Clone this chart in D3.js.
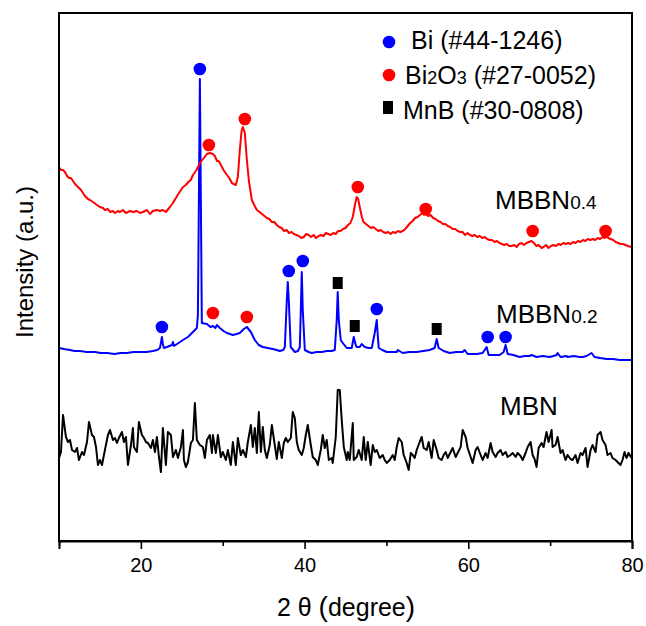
<!DOCTYPE html>
<html>
<head>
<meta charset="utf-8">
<script src="https://cdn.jsdelivr.net/npm/d3@7"></script>
<style>
  body { margin: 0; background: #fff; }
  text { font-family: Arial, "Liberation Sans", sans-serif; fill: #000; }
</style>
</head>
<body>
<svg id="chart" width="646" height="626"></svg>
<script>
// XRD patterns, stacked: [2θ (degree), intensity (a.u., offset per sample)]
const mbbn04 = [
  [10.00,374],[10.24,371],[10.49,371],[10.73,369],[10.98,365],[11.22,363],[11.46,363],[11.71,360],[11.95,357],[12.20,355],
  [12.44,353],[12.69,351],[12.93,348],[13.17,345],[13.54,342],[13.78,341],[14.15,339],[14.64,336],[15.00,334],[15.37,333],
  [15.61,331],[15.98,332],[16.23,329],[16.59,330],[16.84,328],[17.20,330],[17.45,329],[17.81,331],[18.18,328],[18.67,330],
  [19.03,329],[19.52,330],[19.89,328],[20.25,329],[20.74,331],[21.11,327],[21.47,330],[21.96,331],[22.33,330],[22.69,331],
  [23.06,329],[23.55,334],[23.92,338],[24.50,346],[25.14,354],[25.50,356],[25.80,359],[26.10,361],[26.36,366],[26.80,371],
  [27.21,378],[27.60,382],[28.07,387],[28.43,388],[28.80,387],[29.04,385],[29.30,380],[29.50,380],[29.65,378],[30.10,371],
  [30.51,366],[30.80,363],[31.12,358],[31.35,357],[31.60,356],[31.85,364],[32.09,391],[32.30,410],[32.46,414],[32.70,408],
  [32.95,381],[33.20,360],[33.56,341],[33.85,336],[34.17,331],[34.50,329],[34.80,327],[35.10,325],[35.39,323],[35.70,322],
  [36.00,319],[36.30,319],[36.60,316],[36.90,314],[37.20,313],[37.50,310],[37.80,311],[38.10,308],[38.40,309],[38.70,307],
  [39.00,306],[39.30,305],[39.60,303],[39.90,304],[40.20,307],[40.50,306],[40.80,304],[41.10,306],[41.40,303],[41.70,305],
  [42.00,306],[42.30,305],[42.60,308],[42.90,307],[43.20,306],[43.50,308],[43.80,307],[44.10,310],[44.40,310],[44.70,312],
  [45.00,313],[45.30,316],[45.60,318],[45.89,324],[46.15,336],[46.37,344],[46.55,342],[46.74,334],[47.00,324],[47.20,319],
  [47.50,317],[47.80,315],[48.10,313],[48.40,314],[48.70,312],[49.00,310],[49.30,311],[49.60,309],[49.90,308],[50.20,309],
  [50.50,307],[50.80,309],[51.10,308],[51.40,310],[51.70,309],[52.00,310],[52.30,312],[52.60,315],[52.90,318],[53.20,320],
  [53.50,323],[53.80,324],[54.10,326],[54.43,328],[54.60,326],[54.80,327],[55.10,325],[55.40,326],[55.70,323],[56.00,322],
  [56.30,320],[56.60,319],[56.90,317],[57.20,317],[57.50,315],[57.80,314],[58.10,312],[58.40,312],[58.70,310],[59.00,309],
  [59.30,309],[59.60,306],[59.90,308],[60.20,306],[60.50,305],[60.80,306],[61.10,304],[61.40,305],[61.70,303],[62.00,304],
  [62.30,302],[62.60,301],[62.90,301],[63.20,299],[63.50,300],[63.80,298],[64.10,297],[64.40,296],[64.70,297],[65.00,295],
  [65.30,295],[65.60,296],[65.90,294],[66.20,297],[66.51,298],[66.80,296],[67.12,298],[67.40,299],[67.73,300],[68.00,298],
  [68.34,295],[68.60,296],[68.95,293],[69.20,294],[69.50,296],[69.80,293],[70.10,295],[70.40,296],[70.70,295],[71.00,297],
  [71.30,296],[71.60,298],[71.90,297],[72.20,298],[72.50,297],[72.80,299],[73.10,298],[73.40,300],[73.70,299],[74.00,301],
  [74.30,300],[74.60,302],[74.90,301],[75.20,302],[75.50,301],[75.80,303],[76.10,302],[76.40,304],[76.70,303],[76.89,305],
  [77.10,303],[77.40,302],[77.70,301],[78.00,299],[78.30,298],[78.60,297],[78.90,297],[79.20,296],[79.50,295],[79.94,294]
];

const mbbn02 = [
  [10.00,193],[10.60,192],[11.34,191],[11.90,190],[12.56,190],[13.40,189],[14.39,189],[15.10,188],[15.86,188],[16.80,187],
  [17.50,188],[18.30,188],[19.10,189],[19.89,189],[20.70,189],[21.47,190],[22.00,191],[22.33,193],[22.45,198],[22.57,204],
  [22.69,197],[22.82,193],[23.18,194],[23.79,196],[23.92,199],[24.04,195],[24.60,198],[25.14,201],[25.75,204],[26.36,209],
  [26.84,213],[26.97,226],[27.09,341],[27.21,462],[27.33,341],[27.45,218],[28.07,217],[28.50,214],[28.80,215],[29.10,213],
  [29.29,216],[29.65,213],[30.10,210],[30.51,208],[31.24,206],[31.70,207],[32.09,208],[32.58,212],[32.95,214],[33.44,209],
  [33.92,201],[34.40,196],[34.90,194],[35.50,193],[36.12,192],[36.60,191],[36.98,190],[37.40,191],[37.59,194],[37.83,241],
  [37.95,259],[38.07,241],[38.31,194],[38.81,189],[39.20,190],[39.42,194],[39.54,231],[39.66,269],[39.78,231],[40.03,191],
  [40.50,189],[40.88,188],[41.49,189],[42.10,189],[42.71,190],[43.30,190],[43.69,191],[43.93,221],[44.05,249],[44.18,221],
  [44.42,201],[44.67,198],[45.15,193],[45.76,193],[46.01,204],[46.25,196],[46.37,194],[46.74,194],[46.98,197],[47.35,194],
  [47.80,193],[48.21,193],[48.57,208],[48.82,221],[48.94,206],[49.06,193],[49.50,191],[50.04,189],[50.60,189],[51.26,189],
  [51.38,191],[51.99,188],[52.80,189],[53.70,189],[54.50,190],[55.28,191],[55.89,193],[56.14,202],[56.38,193],[57.00,190],
  [57.73,188],[58.50,189],[59.31,189],[59.56,191],[59.92,187],[60.50,187],[61.02,187],[61.75,188],[62.24,194],[62.49,186],
  [63.10,186],[63.83,186],[64.32,189],[64.56,196],[64.81,187],[65.50,186],[66.27,184],[66.90,185],[67.49,185],[67.73,186],
  [68.34,184],[69.10,185],[69.93,184],[70.40,185],[70.79,186],[70.91,188],[71.27,184],[72.01,185],[72.13,184],[72.90,185],
  [73.59,184],[74.00,184],[74.45,185],[75.06,188],[75.42,184],[76.10,183],[76.89,182],[77.70,182],[78.48,181],[79.20,181],
  [79.94,181]
];

const mbn = [
  [10.00,83],[10.24,89],[10.49,126],[10.85,104],[11.10,99],[11.34,101],[11.59,91],[11.95,89],[12.20,93],[12.44,81],
  [12.81,89],[13.05,86],[13.42,99],[13.66,119],[14.03,106],[14.27,104],[14.52,94],[14.76,76],[15.00,81],[15.25,76],
  [15.61,91],[15.98,106],[16.23,111],[16.59,101],[16.84,103],[17.08,98],[17.32,103],[17.69,109],[17.93,99],[18.18,104],
  [18.42,76],[18.79,96],[19.03,113],[19.15,94],[19.52,89],[19.76,119],[20.13,106],[20.38,103],[20.62,99],[20.86,98],
  [21.23,93],[21.47,101],[21.72,89],[21.96,104],[22.21,84],[22.45,69],[22.69,113],[23.06,76],[23.30,109],[23.67,106],
  [23.92,84],[24.28,91],[24.53,83],[24.89,94],[25.14,111],[25.26,81],[25.50,74],[25.75,79],[26.11,98],[26.36,101],
  [26.60,138],[26.84,101],[27.21,96],[27.58,94],[27.82,83],[28.07,101],[28.43,106],[28.68,88],[28.80,106],[29.16,88],
  [29.41,106],[29.77,84],[30.02,89],[30.38,81],[30.63,91],[30.99,76],[31.24,99],[31.60,76],[31.85,103],[32.21,86],
  [32.46,91],[32.83,84],[33.07,99],[33.44,116],[33.68,94],[33.92,113],[34.17,88],[34.41,129],[34.66,89],[34.90,114],
  [35.14,91],[35.39,83],[35.75,96],[36.00,116],[36.36,96],[36.61,82],[36.85,99],[37.22,83],[37.46,98],[37.71,103],
  [37.95,99],[38.32,103],[38.56,129],[38.81,123],[39.05,99],[39.29,91],[39.66,86],[39.90,93],[40.15,106],[40.39,116],
  [40.76,96],[41.00,84],[41.37,81],[41.61,76],[41.98,91],[42.22,106],[42.47,93],[42.71,101],[42.96,81],[43.32,83],
  [43.44,78],[43.81,104],[44.05,151],[44.30,151],[44.54,121],[44.79,94],[45.15,81],[45.28,89],[45.52,81],[45.89,118],
  [46.01,81],[46.37,84],[46.62,91],[46.98,81],[47.23,104],[47.47,81],[47.72,99],[48.08,76],[48.33,96],[48.57,89],
  [48.82,91],[49.18,83],[49.55,86],[49.79,81],[50.04,78],[50.40,81],[50.77,86],[51.01,81],[51.26,94],[51.50,103],
  [51.87,99],[52.11,86],[52.48,78],[52.72,71],[52.97,88],[53.21,86],[53.45,83],[53.70,91],[54.06,99],[54.31,104],
  [54.55,93],[54.92,91],[55.16,99],[55.53,83],[55.77,101],[56.14,91],[56.38,83],[56.75,81],[56.99,86],[57.24,89],
  [57.48,83],[57.85,89],[58.09,93],[58.46,84],[58.70,88],[59.07,94],[59.31,111],[59.68,104],[59.92,93],[60.29,84],
  [60.53,78],[60.90,91],[61.14,94],[61.51,86],[61.75,81],[62.12,88],[62.36,83],[62.73,98],[62.97,89],[63.34,84],
  [63.58,88],[63.95,91],[64.19,86],[64.56,89],[64.81,84],[65.17,86],[65.42,88],[65.78,84],[66.03,88],[66.39,85],
  [66.64,81],[67.00,88],[67.25,94],[67.61,99],[67.86,86],[68.10,82],[68.34,74],[68.59,93],[68.95,98],[69.20,94],
  [69.56,109],[69.81,99],[70.18,111],[70.30,94],[70.66,96],[70.91,104],[71.27,88],[71.52,91],[71.88,81],[72.13,86],
  [72.49,82],[72.74,81],[73.10,86],[73.35,78],[73.72,88],[73.96,86],[74.33,93],[74.57,74],[74.94,91],[75.18,96],
  [75.55,89],[75.79,106],[76.16,109],[76.40,101],[76.77,96],[77.01,86],[77.38,88],[77.62,83],[77.99,81],[78.23,79],
  [78.60,76],[78.84,81],[79.09,89],[79.33,83],[79.58,88],[79.94,83]
];

// Phase markers placed above the matching reflections: [2θ, height]
const biMarks = [[27.21,472],[22.57,214],[38.07,270],[39.78,280],[48.82,232],[62.37,204],[64.56,204]];
const bi2o3Marks = [[28.31,396],[32.70,422],[46.50,354],[54.80,332],[67.86,310],[76.77,310],[28.80,228],[32.95,224]];
const mnbMarks = [[44.05,258],[46.13,215],[56.14,212]];

const xTicks = [10, 20, 30, 40, 50, 60, 70, 80];
const xTickLabels = [20, 40, 60, 80];

const svg = d3.select("#chart");
const plotLeft = 59, plotRight = 632, plotTop = 13, plotBottom = 541;

const x = d3.scaleLinear().domain([10, 80]).range([plotLeft, plotRight]);
const y = d3.scaleLinear().domain([0, 528]).range([plotBottom, plotTop]);

const line = d3.line().x(d => x(d[0])).y(d => y(d[1]));

const plot = svg.append("g");
[[mbn, "#000000"], [mbbn02, "#0000ff"], [mbbn04, "#ff0000"]].forEach(([data, color]) => {
  plot.append("path")
    .datum(data)
    .attr("d", line)
    .attr("fill", "none")
    .attr("stroke", color)
    .attr("stroke-width", 2)
    .attr("stroke-linejoin", "round");
});

// phase markers
plot.append("g").selectAll("circle").data(biMarks).join("circle")
  .attr("cx", d => x(d[0])).attr("cy", d => y(d[1])).attr("r", 6.3).attr("fill", "#0000ff");
plot.append("g").selectAll("circle").data(bi2o3Marks).join("circle")
  .attr("cx", d => x(d[0])).attr("cy", d => y(d[1])).attr("r", 6.3).attr("fill", "#ff0000");
plot.append("g").selectAll("rect").data(mnbMarks).join("rect")
  .attr("x", d => x(d[0]) - 5).attr("y", d => y(d[1]) - 6).attr("width", 10).attr("height", 12).attr("fill", "#000");

// frame
svg.append("rect")
  .attr("x", plotLeft).attr("y", plotTop).attr("width", plotRight - plotLeft).attr("height", plotBottom - plotTop)
  .attr("fill", "none").attr("stroke", "#000").attr("stroke-width", 2);

// x axis
const xAxis = d3.axisBottom(x)
  .tickValues(xTicks)
  .tickSize(8)
  .tickFormat(d => xTickLabels.includes(d) ? d : "");
const gx = svg.append("g").attr("transform", `translate(0,${plotBottom})`).call(xAxis);
gx.select(".domain").attr("stroke-width", 2);
gx.selectAll(".tick line").attr("stroke-width", 1.6)
  .attr("y2", d => xTickLabels.includes(d) ? 8 : 5);
gx.selectAll(".tick text").attr("font-size", 20).attr("y", 17).attr("font-family", "Arial, 'Liberation Sans', sans-serif");

// axis titles
const xt = svg.append("text").attr("x", 346).attr("y", 616).attr("text-anchor", "middle").attr("font-size", 25);
xt.append("tspan").text("2 θ ");
xt.append("tspan").attr("font-size", 28).text("(");
xt.append("tspan").text("degree");
xt.append("tspan").attr("font-size", 28).text(")");

svg.append("text")
  .attr("transform", "translate(33,262) rotate(-90)")
  .attr("text-anchor", "middle").attr("font-size", 24)
  .text("Intensity (a.u.)");

// legend
const legend = svg.append("g");
legend.append("circle").attr("cx", 389).attr("cy", 42).attr("r", 6.3).attr("fill", "#0000ff");
legend.append("circle").attr("cx", 389).attr("cy", 75).attr("r", 6.3).attr("fill", "#ff0000");
legend.append("rect").attr("x", 383).attr("y", 101).attr("width", 10).attr("height", 13).attr("fill", "#000");
legend.append("text").attr("x", 411).attr("y", 49).attr("font-size", 25).text("Bi (#44-1246)");
const l2 = legend.append("text").attr("x", 405).attr("y", 84).attr("font-size", 25);
l2.append("tspan").text("Bi");
l2.append("tspan").attr("font-size", 18).text("2");
l2.append("tspan").text("O");
l2.append("tspan").attr("font-size", 18).text("3");
l2.append("tspan").text(" (#27-0052)");
legend.append("text").attr("x", 403).attr("y", 119).attr("font-size", 25).text("MnB (#30-0808)");

// sample labels
function sampleLabel(xp, yp, main, sub) {
  const t = svg.append("text").attr("x", xp).attr("y", yp).attr("font-size", 26);
  t.append("tspan").text(main);
  if (sub) t.append("tspan").attr("font-size", 19).text(sub);
}
sampleLabel(495, 209, "MBBN", "0.4");
sampleLabel(496, 323, "MBBN", "0.2");
sampleLabel(500, 415, "MBN", null);
</script>
</body>
</html>
